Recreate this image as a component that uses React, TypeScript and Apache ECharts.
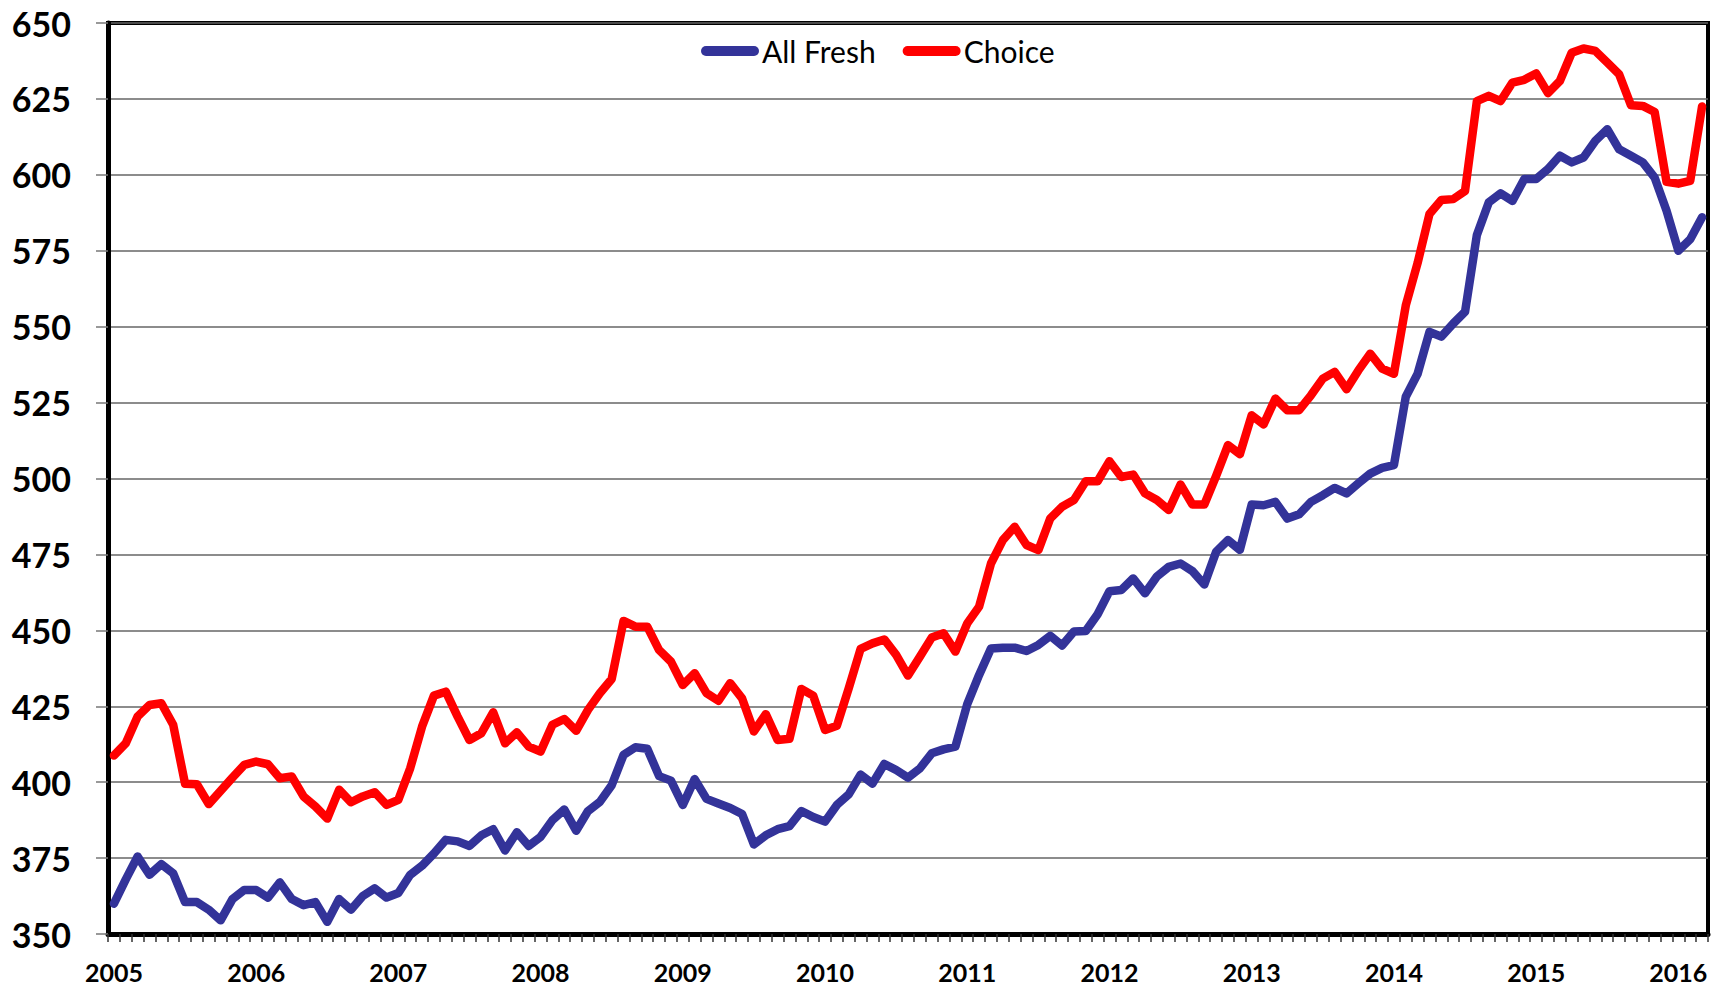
import React, { useEffect, useRef } from "react";
import * as echarts from "echarts";

const startYear = 2005;
const monthCount = 135; // Jan 2005 .. Mar 2016
const yTicks = { min: 350, max: 650, interval: 25 };

const allFresh = [
  360, 368, 375.5, 369.5, 373, 370, 360.5, 360.5, 358, 354.5, 361.5, 364.5,
  364.5, 362, 367, 361.5, 359.5, 360.5, 354, 361.5, 358, 362.5, 365, 362,
  363.5, 369.5, 372.5, 376.5, 381, 380.5, 379, 382.5, 384.5, 377.5, 383.5, 379,
  382, 387.5, 391, 384, 390.5, 393.5, 399, 409, 411.5, 411, 402, 400.5,
  392.5, 401, 394.5, 393, 391.5, 389.5, 379.5, 382.5, 384.5, 385.5, 390.5, 388.5,
  387, 392.5, 396, 402.5, 399.5, 406, 404, 401.5, 404.5, 409.5, 410.8, 411.7,
  425.7, 435.3, 444, 444.3, 444.3, 443.2, 445.2, 448.2, 445, 449.6, 449.8, 455.3,
  462.9, 463.3, 467.1, 462.2, 467.7, 470.9, 472, 469.5, 465.1, 475.9, 479.7, 476.5,
  491.4, 491.2, 492.3, 486.8, 488.2, 492.3, 494.5, 496.9, 495.1, 498.4, 501.6, 503.5,
  504.4, 526.9, 534.5, 548.3, 546.7, 551, 554.9, 580.2, 590.9, 593.9, 591.4, 598.6,
  598.6, 601.9, 606.3, 604.1, 605.7, 611.2, 615, 608.4, 606.3, 604.1, 599.1, 588.2,
  575, 578.8, 586,
];

const choice = [
  408.8, 412.8, 421.6, 425.4, 426, 418.9, 399.5, 399.3, 392.8, 397.1, 401.5, 405.7,
  406.8, 405.9, 401.3, 401.9, 395.3, 392, 388, 397.5, 393.4, 395.3, 396.7, 392.5,
  394.2, 404.6, 418.3, 428.5, 429.8, 421.6, 413.9, 416.1, 423, 412.8, 416.4, 411.7,
  410.1, 418.9, 420.8, 416.9, 423.8, 429.3, 434, 453.1, 451.2, 451.2, 443.5, 439.7,
  432, 435.9, 429.3, 426.8, 432.6, 427.6, 416.7, 422.4, 413.9, 414.3, 430.7, 428.5,
  417.2, 418.6, 430.9, 443.9, 445.7, 447, 441.9, 435.1, 441.3, 447.6, 449, 443,
  452.3, 457.8, 472, 479.7, 484.1, 478.1, 476.4, 486.8, 490.7, 492.9, 499.1, 499.1,
  505.7, 500.5, 501.3, 495.1, 492.9, 489.6, 498, 491.4, 491.4, 500.9, 511, 508,
  520.8, 517.8, 526.3, 522.5, 522.5, 527.4, 532.9, 535.1, 529.4, 535.6, 541.1, 536.2,
  534.5, 557, 571, 587.1, 591.7, 592, 594.7, 624.3, 626, 624.3, 630.4, 631.3,
  633.4, 626.9, 630.9, 640.2, 641.6, 640.8, 637, 633.1, 622.9, 622.7, 620.7, 597.7,
  597.1, 598, 622.5,
];

const seriesNames = ["All Fresh", "Choice"];
const seriesColors = ["#333399", "#FF0000"];

const categories: string[] = [];
for (let i = 0; i < monthCount; i++) {
  const y = startYear + Math.floor(i / 12);
  const m = (i % 12) + 1;
  categories.push(`${y}-${m < 10 ? "0" + m : m}`);
}

const capsule = "path://M5 0H53A5 5 0 0 1 53 10H5A5 5 0 0 1 5 0Z";

export default function App() {
  const ref = useRef<HTMLDivElement>(null);
  useEffect(() => {
    if (!ref.current) return;
    const chart = echarts.init(ref.current, undefined, { renderer: "svg" });
    chart.setOption({
      animation: false,
      backgroundColor: "#fff",
      grid: {
        left: 108,
        right: 11,
        top: 23,
        bottom: 52,
        show: true,
        borderColor: "#000",
        borderWidth: 4,
        backgroundColor: "transparent",
      },
      legend: {
        data: seriesNames,
        left: 696,
        top: 31,
        itemWidth: 58,
        itemHeight: 10,
        itemGap: 27,
        icon: capsule,
        textStyle: { fontFamily: "Lato", fontSize: 30, color: "#000", padding: [0, 0, 0, -2] },
      },
      xAxis: {
        type: "category",
        data: categories,
        boundaryGap: true,
        axisLine: { show: true, lineStyle: { color: "#000", width: 5 } },
        axisTick: {
          show: true,
          interval: 0,
          alignWithLabel: false,
          length: 8,
          lineStyle: { color: "#333", width: 1.5 },
        },
        axisLabel: {
          interval: 11,
          margin: 25,
          fontFamily: "Lato",
          fontWeight: "bold",
          fontSize: 25,
          color: "#000",
          formatter: (v: string) => v.slice(0, 4),
        },
        splitLine: { show: false },
      },
      yAxis: {
        type: "value",
        min: yTicks.min,
        max: yTicks.max,
        interval: yTicks.interval,
        axisLine: { show: true, lineStyle: { color: "#000", width: 5 } },
        axisTick: { show: true, length: 12, lineStyle: { color: "#777", width: 1.5 } },
        axisLabel: {
          margin: 37,
          fontFamily: "Lato",
          fontWeight: "bold",
          fontSize: 34,
          color: "#000",
        },
        splitLine: { show: true, lineStyle: { color: "#666", width: 1.6 } },
      },
      series: [
        {
          name: seriesNames[0],
          type: "line",
          data: allFresh,
          symbol: "none",
          color: seriesColors[0],
          lineStyle: { width: 8.5, color: seriesColors[0], join: "round", cap: "round" },
        },
        {
          name: seriesNames[1],
          type: "line",
          data: choice,
          symbol: "none",
          color: seriesColors[1],
          lineStyle: { width: 8.5, color: seriesColors[1], join: "round", cap: "round" },
        },
      ],
    });
    return () => chart.dispose();
  }, []);
  return (
    <div
      ref={ref}
      style={{ position: "absolute", left: 0, top: 0, width: 1719, height: 986 }}
    />
  );
}
